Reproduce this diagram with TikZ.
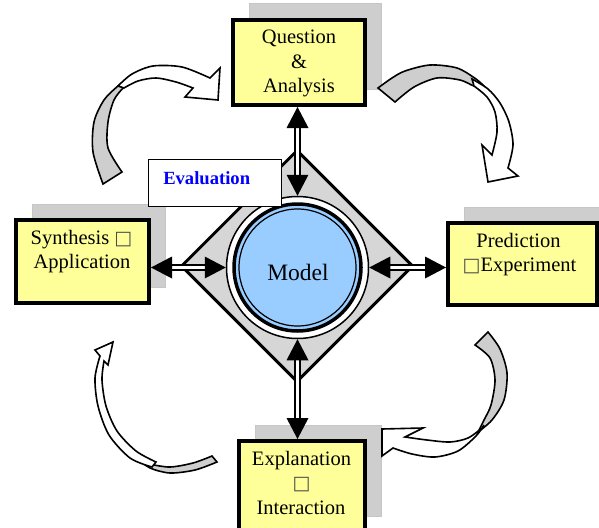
\documentclass[tikz,border=0pt]{standalone}
\usepackage{fontspec}
\setmainfont{Liberation Serif}
\newfontfamily\symf{DejaVu Sans}
\usetikzlibrary{shapes.geometric,shadows,calc}
\definecolor{boxyellow}{RGB}{255,255,153}
\definecolor{modelblue}{RGB}{153,204,255}
\definecolor{shadowgray}{RGB}{206,206,206}
\definecolor{diagray}{RGB}{214,214,214}
\definecolor{backgray}{RGB}{206,206,206}
\tikzset{
  stagebox/.style={draw=black, line width=4pt, fill=boxyellow, inner sep=0pt,
    general shadow={fill=shadowgray, draw=gray!45, line width=1pt, shadow xshift=16pt, shadow yshift=16pt}},
  lbl/.style={inner sep=0pt, anchor=base, font=\fontsize{20.5}{24}\selectfont},
  sq/.style={font=\symf\fontsize{19}{20}\selectfont, text=black!70},
  link/.style={line width=1.8pt, double=white, double distance=3.2pt, shorten <=10pt, shorten >=10pt},
  headtip/.pic={\fill[black] (0,0) -- (-21,-11) -- (-21,11) -- cycle;},
  curvefront/.style={draw=black, line width=1.6pt, fill=white, line join=miter},
  curveback/.style={draw=black, line width=1.6pt, fill=backgray, line join=miter},
}
\newcommand{\boxglyph}{{\symf\fontsize{19}{20}\selectfont\color{black!70}□}}
\begin{document}
\begin{tikzpicture}[x=1pt,y=-1pt]
\useasboundingbox (0,0) rectangle (599,527);
\fill[white] (0,0) rectangle (599,527);

% stage boxes
\node[stagebox, minimum width=132pt, minimum height=85pt] (Q) at (299,62.5) {};
\node[stagebox, minimum width=133pt, minimum height=83pt] (S) at (82.5,261.5) {};
\node[stagebox, minimum width=149pt, minimum height=82pt] (P) at (522.5,264) {};
\node[stagebox, minimum width=126pt, minimum height=91pt] (E) at (302,486.5) {};

% central diamond and model circle
\node[diamond, draw=black, line width=3pt, fill=diagray, minimum width=232pt, minimum height=232pt, inner sep=0pt, aspect=1] (D) at (297,266) {};
\node[circle, draw=black, line width=1.5pt, fill=white, minimum size=142pt, inner sep=0pt] (C) at (297.5,267.5) {};
\draw[line width=3.5pt, fill=modelblue] (C.center) circle[radius=63.5pt];
\draw[line width=1.2pt] (C.center) circle[radius=58.5pt];

% double connectors
\draw[link] (Q.south -| C.north) -- (C.north);
\pic[rotate=90] at (Q.south -| C.north) {headtip};
\pic[rotate=-90] at (C.north) {headtip};

\draw[link] (S.east |- C.west) -- (C.west);
\pic[rotate=180] at (S.east |- C.west) {headtip};
\pic at (C.west) {headtip};

\draw[link] (C.east) -- (P.west |- C.east);
\pic[rotate=180] at (C.east) {headtip};
\pic at (P.west |- C.east) {headtip};

\draw[link] (C.south) -- (E.north -| C.south);
\pic[rotate=90] at (C.south) {headtip};
\pic[rotate=-90] at (E.north -| C.south) {headtip};

% evaluation box
\node[draw=black, line width=1.2pt, fill=white, minimum width=133pt, minimum height=47pt, inner sep=0pt] (Ev) at (215,183) {};

% curved arrows: top-left
\draw[curveback] plot[smooth] coordinates {(103,184) (93,152) (94,122) (104,100) (118,86) (132,76)}
  -- plot[smooth] coordinates {(134,78) (124,87) (114,100) (108,122) (108,148) (122,172)} -- cycle;
\draw[curvefront] plot[smooth] coordinates {(118,86) (132,74) (153,66) (182,67) (210,78)}
  -- (220,68) -- (218,100) -- (185,97)
  -- plot[smooth] coordinates {(193,88) (176,82) (156,78) (138,81) (124,88)} -- cycle;

% top-right
\draw[curveback] plot[smooth] coordinates {(378,88) (392,78) (405,71) (430,65) (457,68) (476,79) (486,88)}
  -- plot[smooth] coordinates {(486,88) (474,86) (460,80) (437,78) (414,87) (395,102)} -- cycle;
\draw[curvefront] plot[smooth] coordinates {(472,79) (488,89) (500,103) (509,122) (513,145) (508,168)}
  -- (518,176) -- (488,182) -- (482,145)
  -- plot[smooth] coordinates {(492,155) (497,132) (495,112) (487,97) (474,86)} -- cycle;

% bottom-right
\draw[curveback] plot[smooth] coordinates {(488,332) (500,349) (507,373) (504,400) (492,420) (478,432)}
  -- plot[smooth] coordinates {(478,432) (484,420) (491,405) (495,380) (490,358) (475,345)} -- cycle;
\draw[curvefront] plot[smooth] coordinates {(482,428) (468,438) (450,442) (427,440) (405,437)}
  -- (423,428) -- (382,429) -- (382,456)
  -- plot[smooth] coordinates {(393,448) (412,454) (435,457) (458,451) (476,436) (484,425)} -- cycle;

% bottom-left
\draw[curveback] plot[smooth] coordinates {(212,456) (193,463) (170,467) (150,464) (138,459)}
  -- plot[smooth] coordinates {(138,459) (150,468) (170,473) (195,470) (217,462)} -- cycle;
\draw[curvefront] plot[smooth] coordinates {(104,361) (102,380) (106,406) (117,431) (136,451) (156,462)}
  -- plot[smooth] coordinates {(152,467) (130,458) (109,435) (98,406) (95,378) (100,356)}
  -- (95,350) -- (113,342) -- (108,365) -- cycle;

% texts
\node[lbl] (q1) at (299,43.5) {Question};
\node[lbl] (q2) at (299,68) {\&};
\node[lbl] (q3) at (299,92.5) {Analysis};
\node[lbl] (s1) at (81.5,244) {Synthesis \boxglyph};
\node[lbl] (s2) at (82,268.3) {Application};
\node[lbl] (p1) at (518.5,247.3) {Prediction};
\node[lbl] (p2) at (519.5,271.7) {\boxglyph Experiment};
\node[lbl] (e1) at (301.5,465) {Explanation};
\node[lbl, sq] (e2) at (301.5,489) {□};
\node[lbl] (e3) at (301,514.3) {Interaction};
\node[lbl, font=\fontsize{23.5}{26}\selectfont] (M) at (298,280) {Model};
\node[lbl, font=\bfseries\fontsize{18.6}{20}\selectfont, text=blue] (EvT) at (206.7,184.3) {Evaluation};
\end{tikzpicture}
\end{document}
